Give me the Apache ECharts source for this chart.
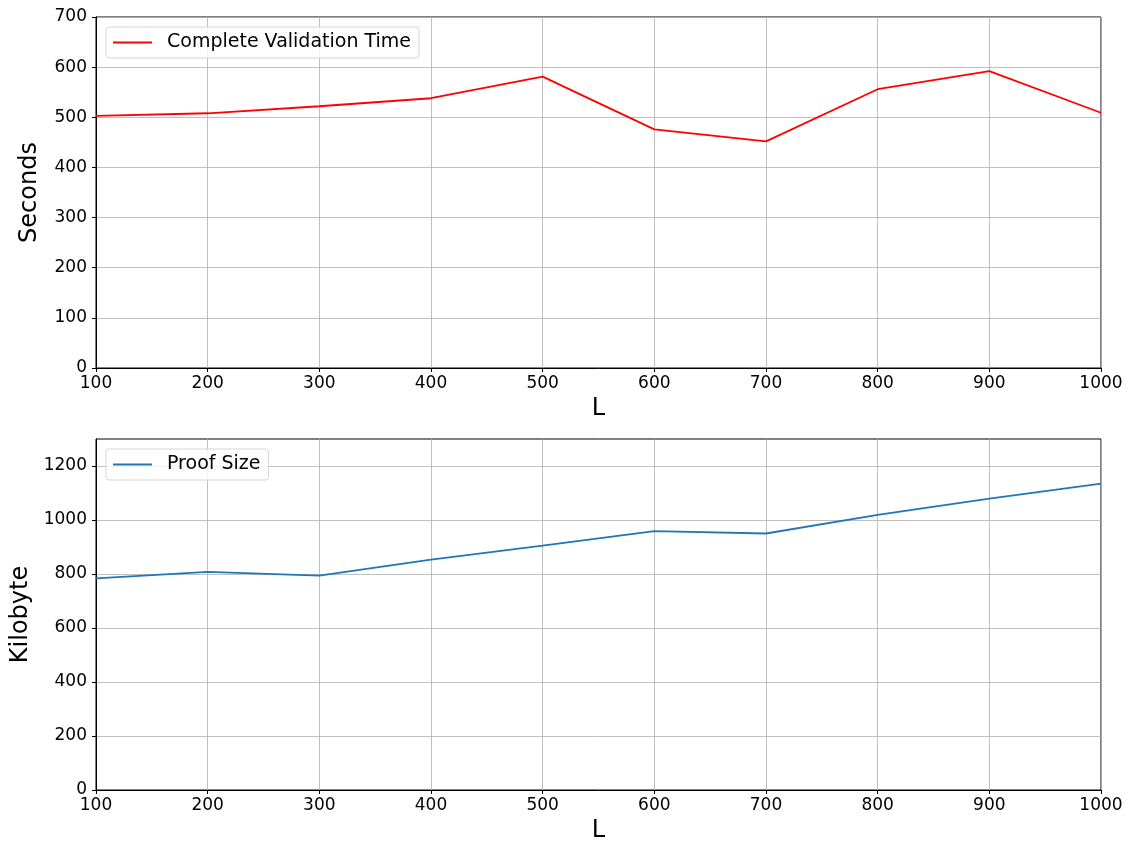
<!DOCTYPE html>
<html><head><meta charset="utf-8">
<script src="https://cdn.jsdelivr.net/npm/echarts@6/dist/echarts.min.js"></script>
<style>html,body{margin:0;padding:0;background:#fff}#c{width:1133px;height:844px}</style>
</head><body><div id="c"></div>
<script>
const L = [100, 200, 300, 400, 500, 600, 700, 800, 900, 1000];
const validationTime = [503, 508, 522, 538, 581, 476, 452, 556, 592, 509];
const proofSize = [784, 808, 794, 853, 905, 959, 950, 1019, 1079, 1135];
const topTicks = [0, 100, 200, 300, 400, 500, 600, 700];
const bottomTicks = [0, 200, 400, 600, 800, 1000, 1200];

const font = 'DejaVu Sans';
const chart = echarts.init(document.getElementById('c'), null, {renderer: 'canvas'});
function xAxis(gi) {
  return {
    type: 'value', gridIndex: gi, min: 100, max: 1000, interval: 100,
    name: 'L', nameLocation: 'middle', nameGap: 29,
    nameTextStyle: {fontFamily: font, fontSize: 24, color: '#000'},
    axisLine: {show: true, onZero: false, lineStyle: {color: '#000', width: 1}},
    axisTick: {show: true, length: 4, lineStyle: {color: '#000'}},
    axisLabel: {fontFamily: font, fontSize: 17, color: '#000', margin: 7, formatter: v => String(v)},
    splitLine: {show: true, lineStyle: {color: '#b0b0b0', width: 0.8}}
  };
}
function yAxis(gi, ticks, name, gap) {
  const interval = ticks[1] - ticks[0];
  const max = gi === 0 ? ticks[ticks.length - 1] : 1300;
  return {
    type: 'value', gridIndex: gi, min: 0, max: max, interval: interval,
    name: name, nameLocation: 'middle', nameGap: gap,
    nameTextStyle: {fontFamily: font, fontSize: 24, color: '#000'},
    axisLine: {show: true, lineStyle: {color: '#000', width: 1}},
    axisTick: {show: true, length: 4, lineStyle: {color: '#000'}, customValues: ticks},
    axisLabel: {fontFamily: font, fontSize: 17, color: '#000', margin: 9, customValues: ticks,
      formatter: v => (ticks.indexOf(v) >= 0 ? String(v) : '')},
    splitLine: {show: true, lineStyle: {color: '#b0b0b0', width: 0.8}}
  };
}
function legend(name, top) {
  return {data: [name], left: 106, top: top, orient: 'vertical',
    backgroundColor: 'rgba(255,255,255,0.8)', borderColor: '#d6d6d6', borderWidth: 1, borderRadius: 3,
    padding: [6, 8, 6, 7], itemWidth: 39, itemHeight: 2, itemGap: 8, icon: 'rect',
    textStyle: {fontFamily: font, fontSize: 19, color: '#000', padding: [0, 0, 0, 10]}};
}
chart.setOption({
  animation: false,
  backgroundColor: '#fff',
  grid: [
    {left: 96, right: 32, top: 17, height: 351, show: true, borderColor: '#000', borderWidth: 1},
    {left: 96, right: 32, top: 439, height: 351, show: true, borderColor: '#000', borderWidth: 1}
  ],
  xAxis: [xAxis(0), xAxis(1)],
  yAxis: [yAxis(0, topTicks, 'Seconds', 54), yAxis(1, bottomTicks, 'Kilobyte', 63)],
  legend: [legend('Complete Validation Time', 27), legend('Proof Size', 449)],
  series: [
    {name: 'Complete Validation Time', type: 'line', xAxisIndex: 0, yAxisIndex: 0,
     data: L.map((x, i) => [x, validationTime[i]]), showSymbol: false, symbol: 'none',
     lineStyle: {color: '#ff0000', width: 1.8}, itemStyle: {color: '#ff0000'}},
    {name: 'Proof Size', type: 'line', xAxisIndex: 1, yAxisIndex: 1,
     data: L.map((x, i) => [x, proofSize[i]]), showSymbol: false, symbol: 'none',
     lineStyle: {color: '#1f77b4', width: 1.8}, itemStyle: {color: '#1f77b4'}}
  ]
});
</script></body></html>
